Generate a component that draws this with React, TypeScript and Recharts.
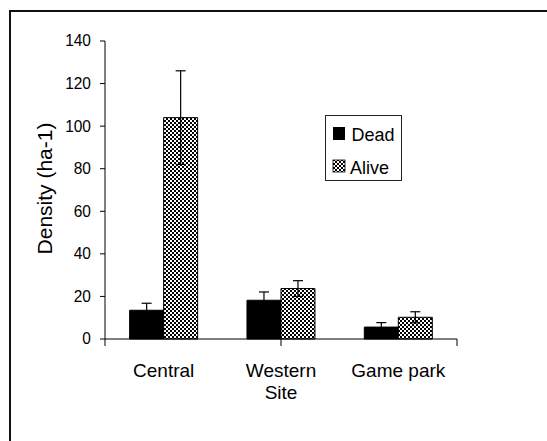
import React from 'react';
import { BarChart, Bar, XAxis, YAxis, ErrorBar, Legend } from 'recharts';

const FONT = '"Liberation Sans", Arial, Helvetica, sans-serif';

const categories = ['Central', 'Western Site', 'Game park'];
const categoryLines = [['Central'], ['Western', 'Site'], ['Game park']];
const deadValues = [13.5, 18.2, 5.6];
const deadErrors = [3.3, 3.9, 2.1];
const aliveValues = [104, 23.7, 10.2];
const aliveErrors = [22, 3.7, 2.6];
const yTicks = [0, 20, 40, 60, 80, 100, 120, 140];
const edgeTicks = [0, 1, 2, 3];
const seriesNames = ['Dead', 'Alive'];
const yLabel = 'Density (ha-1)';

const data = categories.map((c, i) => ({
  category: c,
  dead: deadValues[i],
  deadErr: deadErrors[i],
  alive: aliveValues[i],
  aliveErr: aliveErrors[i],
}));

const Checker = ({ id }: { id: string }) => (
  <pattern id={id} patternUnits="userSpaceOnUse" width={4} height={4}>
    <rect x={0} y={0} width={4} height={4} fill="#fff" />
    <rect x={0} y={0} width={2} height={2} fill="#000" />
    <rect x={2} y={2} width={2} height={2} fill="#000" />
  </pattern>
);

// text stretched slightly vertically about its baseline
const StretchText = ({ x, y, sy, children, ...rest }: any) => (
  <text
    x={x}
    y={y}
    transform={`translate(0 ${y}) scale(1 ${sy}) translate(0 ${-y})`}
    fontFamily={FONT}
    fill="#000"
    {...rest}
  >
    {children}
  </text>
);

const EmptyTick = () => <g />;

const YTick = (props: any) => {
  const { x, y, payload } = props;
  return (
    <StretchText x={x} y={y + 5.5} sy={1.05} textAnchor="end" fontSize={15.5}>
      {payload.value}
    </StretchText>
  );
};

const CatTick = (props: any) => {
  const { x, y, index } = props;
  const lines = categoryLines[index] || [String(props.payload?.value ?? '')];
  return (
    <text x={x} y={y + 31} textAnchor="middle" fontSize={19} fontFamily={FONT} fill="#000">
      {lines.map((ln: string, i: number) => (
        <tspan key={i} x={x} dy={i === 0 ? 0 : 22}>
          {ln}
        </tspan>
      ))}
    </text>
  );
};

const YLabelContent = () => (
  <text
    x={52}
    y={188.5}
    transform="rotate(-90 52 188.5)"
    textAnchor="middle"
    fill="#000"
    fontSize={21}
    fontFamily={FONT}
  >
    {yLabel}
  </text>
);

const LegendBox = () => (
  <svg width={77} height={66} style={{ display: 'block' }}>
    <defs>
      <Checker id="legendChecker" />
    </defs>
    <rect x={0.5} y={0.5} width={76} height={65} fill="#fff" stroke="#222" strokeWidth={1} />
    <rect x={8} y={12} width={12} height={13} fill="#000" />
    <StretchText x={26.5} y={26} sy={1.07} fontSize={18}>
      {seriesNames[0]}
    </StretchText>
    <rect x={8} y={45} width={12} height={12} fill="url(#legendChecker)" stroke="#000" strokeWidth={0.8} />
    <StretchText x={25} y={59} sy={1.07} fontSize={18}>
      {seriesNames[1]}
    </StretchText>
  </svg>
);

export default function App() {
  return (
    <div style={{ position: 'absolute', left: 0, top: 0, width: 547, height: 441, background: '#fff', overflow: 'hidden' }}>
      <div
        style={{
          position: 'absolute',
          left: 9,
          top: 10,
          width: 538,
          height: 431,
          borderLeft: '2px solid #111',
          borderTop: '2px solid #111',
          boxSizing: 'border-box',
        }}
      />
      <div style={{ position: 'absolute', left: 0, top: 0 }}>
        <BarChart
          width={547}
          height={441}
          data={data}
          margin={{ top: 41, right: 90, bottom: 0, left: 0 }}
          barCategoryGap="21%"
          barGap={0}
        >
          <defs>
            <Checker id="aliveChecker" />
          </defs>
          <YAxis
            type="number"
            domain={[0, 140]}
            ticks={yTicks}
            interval={0}
            width={105}
            tickSize={5}
            tickMargin={9}
            axisLine={{ stroke: '#000' }}
            tickLine={{ stroke: '#000' }}
            tick={<YTick />}
            label={{ content: YLabelContent }}
          />
          <XAxis
            xAxisId="b_cat"
            dataKey="category"
            type="category"
            height={95}
            interval={0}
            axisLine={false}
            tickLine={false}
            tickSize={0}
            tickMargin={0}
            tick={<CatTick />}
          />
          <XAxis
            xAxisId="a_edges"
            type="number"
            domain={[0, 3]}
            ticks={edgeTicks}
            allowDataOverflow
            interval={0}
            height={7}
            tickSize={7}
            tick={EmptyTick}
            axisLine={{ stroke: '#000' }}
            tickLine={{ stroke: '#000' }}
          />
          <Legend
            layout="vertical"
            align="center"
            verticalAlign="middle"
            content={<LegendBox />}
            wrapperStyle={{ position: 'absolute', left: 325, top: 115, width: 77, height: 66 }}
          />
          <Bar xAxisId="b_cat" dataKey="dead" name={seriesNames[0]} fill="#000" stroke="#000" strokeWidth={1} isAnimationActive={false}>
            <ErrorBar dataKey="deadErr" width={5} stroke="#000" strokeWidth={1.2} direction="y" />
          </Bar>
          <Bar xAxisId="b_cat" dataKey="alive" name={seriesNames[1]} fill="url(#aliveChecker)" stroke="#000" strokeWidth={1} isAnimationActive={false}>
            <ErrorBar dataKey="aliveErr" width={5} stroke="#000" strokeWidth={1.2} direction="y" />
          </Bar>
        </BarChart>
      </div>
    </div>
  );
}
